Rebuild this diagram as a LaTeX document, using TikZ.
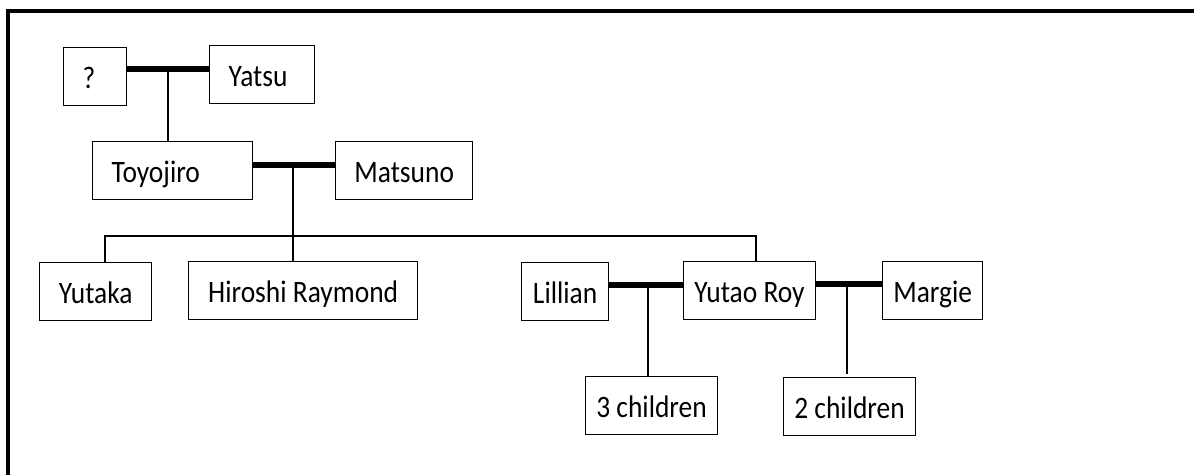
\documentclass[tikz,border=0pt]{standalone}
\usepackage{fontspec}
\setmainfont{Carlito}[FakeStretch=0.88]
\usepackage{tikz}
\usetikzlibrary{positioning, calc}

\begin{document}
\begin{tikzpicture}[
    x=0.375pt, y=-0.375pt,
    person/.style={rectangle, draw, line width=0.5pt, anchor=north west,
      minimum height=21.75pt, inner xsep=4pt, inner ysep=0pt,
      text height=11.5pt, text depth=2.5pt,
      align=center, font=\fontsize{11.7}{14}\selectfont},
    leftperson/.style={person, inner xsep=7.1pt, align=left, text width=#1},
    marriage/.style={line width=2.1pt},
    line/.style={line width=0.45pt}
]
\useasboundingbox (0,0) rectangle (1194,475);
%% cadre
\draw[line width=1.5pt] (8,480) -- (8,11) -- (1200,11);

%% Generation 1
\node[leftperson=9.4pt, minimum width=23.6pt] (q) at (63,47) {?};
\node[leftperson=25.1pt, minimum width=39.4pt] (yatsu) at (209,45) {Yatsu};
\coordinate (qy) at (168,69);
\draw[marriage] (q.east |- qy) -- (yatsu.west |- qy);

%% Generation 2
\node[leftperson=45.8pt, minimum width=60pt] (toyo) at (92,141) {Toyojiro};
\node[person, minimum width=51.4pt] (matsu) at (335,141) {Matsuno};
\draw[line] (qy) -- (qy |- toyo.north);
\coordinate (tm) at (293,165);
\draw[marriage] (toyo.east |- tm) -- (matsu.west |- tm);

%% Generation 3
\node[person, minimum width=42pt] (yutaka) at (39,262) {Yutaka};
\node[person, minimum width=85.9pt] (hiroshi) at (188,261) {Hiroshi Raymond};
\node[person, minimum width=32.6pt] (lillian) at (521,262) {Lillian};
\node[person, minimum width=48.4pt] (yutao) at (683,261) {Yutao Roy};
\node[person, minimum width=37.5pt] (margie) at (882,261) {Margie};
\draw[line] (tm) -- (tm |- hiroshi.north);
\coordinate (barL) at (105,236);
\coordinate (barR) at (756,236);
\draw[line] (barL |- yutaka.north) -- (barL) -- (barR) -- (barR |- yutao.north);

%% Generation 4
\node[person, minimum width=47.6pt] (three) at (585,376) {3 children};
\node[person, minimum width=47.6pt] (two) at (783,377) {2 children};
\coordinate (ly) at (648,285);
\coordinate (ym) at (847,284);
\draw[marriage] (lillian.east |- ly) -- (yutao.west |- ly);
\draw[marriage] (yutao.east |- ym) -- (margie.west |- ym);
\draw[line] (ly) -- (ly |- three.north);
\draw[line] (ym) -- ([yshift=1pt]ym |- two.north);
\end{tikzpicture}
\end{document}
